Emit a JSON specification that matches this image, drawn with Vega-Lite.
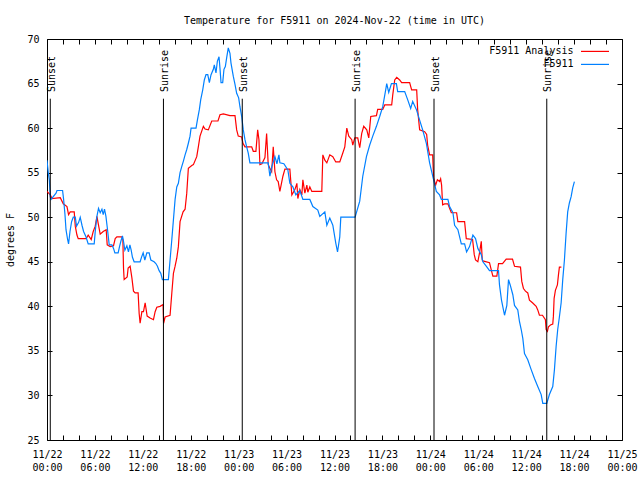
{
  "$schema": "https://vega.github.io/schema/vega-lite/v6.json",
  "width": 575,
  "height": 401,
  "autosize": {"type": "none"},
  "padding": {"left": 47, "top": 39, "right": 18, "bottom": 40},
  "title": {"text": "Temperature for F5911 on 2024-Nov-22 (time in UTC)", "anchor": "middle", "font": "DejaVu Sans Mono", "fontSize": 10, "fontWeight": "normal", "color": "black", "offset": 8},
  "datasets": {
    "sun": [
      {"event": "Sunset", "hour": 0.41},
      {"event": "Sunrise", "hour": 14.58},
      {"event": "Sunset", "hour": 24.45},
      {"event": "Sunrise", "hour": 38.58},
      {"event": "Sunset", "hour": 48.46},
      {"event": "Sunrise", "hour": 62.58}
    ],
    "obs": [
      {"series": "F5911 Analysis", "hour": 0.0, "temp": 52.9},
      {"series": "F5911 Analysis", "hour": 0.41, "temp": 52.5},
      {"series": "F5911 Analysis", "hour": 0.63, "temp": 52.1},
      {"series": "F5911 Analysis", "hour": 1.66, "temp": 52.2},
      {"series": "F5911 Analysis", "hour": 2.04, "temp": 51.5},
      {"series": "F5911 Analysis", "hour": 2.5, "temp": 51.2},
      {"series": "F5911 Analysis", "hour": 2.7, "temp": 50.3},
      {"series": "F5911 Analysis", "hour": 2.91, "temp": 50.6},
      {"series": "F5911 Analysis", "hour": 3.41, "temp": 50.6},
      {"series": "F5911 Analysis", "hour": 3.54, "temp": 49.0},
      {"series": "F5911 Analysis", "hour": 3.75, "temp": 48.0},
      {"series": "F5911 Analysis", "hour": 3.91, "temp": 47.6},
      {"series": "F5911 Analysis", "hour": 4.91, "temp": 47.6},
      {"series": "F5911 Analysis", "hour": 5.16, "temp": 48.0},
      {"series": "F5911 Analysis", "hour": 5.54, "temp": 47.5},
      {"series": "F5911 Analysis", "hour": 5.79, "temp": 48.4},
      {"series": "F5911 Analysis", "hour": 6.04, "temp": 49.0},
      {"series": "F5911 Analysis", "hour": 6.25, "temp": 50.1},
      {"series": "F5911 Analysis", "hour": 6.41, "temp": 49.3},
      {"series": "F5911 Analysis", "hour": 6.66, "temp": 48.1},
      {"series": "F5911 Analysis", "hour": 7.04, "temp": 48.4},
      {"series": "F5911 Analysis", "hour": 7.41, "temp": 48.6},
      {"series": "F5911 Analysis", "hour": 7.54, "temp": 46.9},
      {"series": "F5911 Analysis", "hour": 7.91, "temp": 46.7},
      {"series": "F5911 Analysis", "hour": 8.33, "temp": 46.8},
      {"series": "F5911 Analysis", "hour": 8.54, "temp": 47.6},
      {"series": "F5911 Analysis", "hour": 8.75, "temp": 47.8},
      {"series": "F5911 Analysis", "hour": 9.38, "temp": 47.8},
      {"series": "F5911 Analysis", "hour": 9.5, "temp": 47.5},
      {"series": "F5911 Analysis", "hour": 9.58, "temp": 44.3},
      {"series": "F5911 Analysis", "hour": 9.66, "temp": 43.0},
      {"series": "F5911 Analysis", "hour": 10.04, "temp": 43.3},
      {"series": "F5911 Analysis", "hour": 10.16, "temp": 44.3},
      {"series": "F5911 Analysis", "hour": 10.41, "temp": 44.5},
      {"series": "F5911 Analysis", "hour": 10.63, "temp": 43.2},
      {"series": "F5911 Analysis", "hour": 10.83, "temp": 41.7},
      {"series": "F5911 Analysis", "hour": 11.04, "temp": 41.5},
      {"series": "F5911 Analysis", "hour": 11.41, "temp": 41.5},
      {"series": "F5911 Analysis", "hour": 11.54, "temp": 39.2},
      {"series": "F5911 Analysis", "hour": 11.66, "temp": 38.1},
      {"series": "F5911 Analysis", "hour": 11.88, "temp": 39.4},
      {"series": "F5911 Analysis", "hour": 12.08, "temp": 39.4},
      {"series": "F5911 Analysis", "hour": 12.29, "temp": 40.4},
      {"series": "F5911 Analysis", "hour": 12.54, "temp": 38.9},
      {"series": "F5911 Analysis", "hour": 12.91, "temp": 38.7},
      {"series": "F5911 Analysis", "hour": 13.33, "temp": 38.5},
      {"series": "F5911 Analysis", "hour": 13.54, "temp": 39.4},
      {"series": "F5911 Analysis", "hour": 13.75, "temp": 39.9},
      {"series": "F5911 Analysis", "hour": 14.16, "temp": 40.0},
      {"series": "F5911 Analysis", "hour": 14.54, "temp": 40.2},
      {"series": "F5911 Analysis", "hour": 14.6, "temp": 38.1},
      {"series": "F5911 Analysis", "hour": 14.79, "temp": 38.8},
      {"series": "F5911 Analysis", "hour": 15.41, "temp": 39.0},
      {"series": "F5911 Analysis", "hour": 15.63, "temp": 41.5},
      {"series": "F5911 Analysis", "hour": 15.83, "temp": 43.7},
      {"series": "F5911 Analysis", "hour": 16.04, "temp": 44.5},
      {"series": "F5911 Analysis", "hour": 16.25, "temp": 45.4},
      {"series": "F5911 Analysis", "hour": 16.45, "temp": 46.7},
      {"series": "F5911 Analysis", "hour": 16.66, "temp": 49.5},
      {"series": "F5911 Analysis", "hour": 17.04, "temp": 50.6},
      {"series": "F5911 Analysis", "hour": 17.29, "temp": 50.9},
      {"series": "F5911 Analysis", "hour": 17.5, "temp": 52.7},
      {"series": "F5911 Analysis", "hour": 17.7, "temp": 55.5},
      {"series": "F5911 Analysis", "hour": 18.13, "temp": 55.8},
      {"series": "F5911 Analysis", "hour": 18.33, "temp": 55.9},
      {"series": "F5911 Analysis", "hour": 18.75, "temp": 56.8},
      {"series": "F5911 Analysis", "hour": 18.95, "temp": 57.9},
      {"series": "F5911 Analysis", "hour": 19.16, "temp": 59.1},
      {"series": "F5911 Analysis", "hour": 19.58, "temp": 60.2},
      {"series": "F5911 Analysis", "hour": 19.79, "temp": 59.9},
      {"series": "F5911 Analysis", "hour": 20.2, "temp": 59.8},
      {"series": "F5911 Analysis", "hour": 20.63, "temp": 60.8},
      {"series": "F5911 Analysis", "hour": 21.41, "temp": 60.8},
      {"series": "F5911 Analysis", "hour": 21.66, "temp": 61.5},
      {"series": "F5911 Analysis", "hour": 22.08, "temp": 61.6},
      {"series": "F5911 Analysis", "hour": 22.91, "temp": 61.4},
      {"series": "F5911 Analysis", "hour": 23.54, "temp": 61.4},
      {"series": "F5911 Analysis", "hour": 23.75, "temp": 59.8},
      {"series": "F5911 Analysis", "hour": 23.95, "temp": 59.1},
      {"series": "F5911 Analysis", "hour": 24.38, "temp": 59.0},
      {"series": "F5911 Analysis", "hour": 24.54, "temp": 58.3},
      {"series": "F5911 Analysis", "hour": 24.79, "temp": 57.9},
      {"series": "F5911 Analysis", "hour": 25.63, "temp": 57.9},
      {"series": "F5911 Analysis", "hour": 25.83, "temp": 57.4},
      {"series": "F5911 Analysis", "hour": 26.16, "temp": 57.4},
      {"series": "F5911 Analysis", "hour": 26.38, "temp": 59.8},
      {"series": "F5911 Analysis", "hour": 26.54, "temp": 58.7},
      {"series": "F5911 Analysis", "hour": 26.66, "temp": 55.9},
      {"series": "F5911 Analysis", "hour": 26.91, "temp": 56.0},
      {"series": "F5911 Analysis", "hour": 27.29, "temp": 56.7},
      {"series": "F5911 Analysis", "hour": 27.5, "temp": 59.4},
      {"series": "F5911 Analysis", "hour": 27.7, "temp": 55.9},
      {"series": "F5911 Analysis", "hour": 27.91, "temp": 55.5},
      {"series": "F5911 Analysis", "hour": 28.13, "temp": 55.1},
      {"series": "F5911 Analysis", "hour": 28.33, "temp": 57.9},
      {"series": "F5911 Analysis", "hour": 28.54, "temp": 55.1},
      {"series": "F5911 Analysis", "hour": 28.75, "temp": 54.2},
      {"series": "F5911 Analysis", "hour": 28.95, "temp": 54.0},
      {"series": "F5911 Analysis", "hour": 29.16, "temp": 52.9},
      {"series": "F5911 Analysis", "hour": 29.54, "temp": 54.6},
      {"series": "F5911 Analysis", "hour": 29.79, "temp": 55.4},
      {"series": "F5911 Analysis", "hour": 30.41, "temp": 55.4},
      {"series": "F5911 Analysis", "hour": 30.66, "temp": 52.5},
      {"series": "F5911 Analysis", "hour": 31.04, "temp": 53.1},
      {"series": "F5911 Analysis", "hour": 31.29, "temp": 53.8},
      {"series": "F5911 Analysis", "hour": 31.41, "temp": 52.1},
      {"series": "F5911 Analysis", "hour": 31.66, "temp": 53.1},
      {"series": "F5911 Analysis", "hour": 31.91, "temp": 52.5},
      {"series": "F5911 Analysis", "hour": 32.04, "temp": 54.2},
      {"series": "F5911 Analysis", "hour": 32.29, "temp": 52.7},
      {"series": "F5911 Analysis", "hour": 32.54, "temp": 53.6},
      {"series": "F5911 Analysis", "hour": 32.66, "temp": 52.8},
      {"series": "F5911 Analysis", "hour": 32.91, "temp": 53.4},
      {"series": "F5911 Analysis", "hour": 33.16, "temp": 52.9},
      {"series": "F5911 Analysis", "hour": 34.41, "temp": 52.9},
      {"series": "F5911 Analysis", "hour": 34.54, "temp": 57.0},
      {"series": "F5911 Analysis", "hour": 34.79, "temp": 56.4},
      {"series": "F5911 Analysis", "hour": 35.04, "temp": 56.1},
      {"series": "F5911 Analysis", "hour": 35.41, "temp": 57.0},
      {"series": "F5911 Analysis", "hour": 35.79, "temp": 56.8},
      {"series": "F5911 Analysis", "hour": 36.16, "temp": 56.2},
      {"series": "F5911 Analysis", "hour": 36.66, "temp": 56.2},
      {"series": "F5911 Analysis", "hour": 37.04, "temp": 57.2},
      {"series": "F5911 Analysis", "hour": 37.29, "temp": 57.9},
      {"series": "F5911 Analysis", "hour": 37.54, "temp": 60.0},
      {"series": "F5911 Analysis", "hour": 37.79, "temp": 59.1},
      {"series": "F5911 Analysis", "hour": 38.16, "temp": 58.7},
      {"series": "F5911 Analysis", "hour": 38.29, "temp": 58.1},
      {"series": "F5911 Analysis", "hour": 38.54, "temp": 58.9},
      {"series": "F5911 Analysis", "hour": 38.91, "temp": 58.9},
      {"series": "F5911 Analysis", "hour": 39.16, "temp": 57.8},
      {"series": "F5911 Analysis", "hour": 39.41, "temp": 59.4},
      {"series": "F5911 Analysis", "hour": 39.66, "temp": 60.2},
      {"series": "F5911 Analysis", "hour": 40.04, "temp": 59.8},
      {"series": "F5911 Analysis", "hour": 40.29, "temp": 58.9},
      {"series": "F5911 Analysis", "hour": 40.54, "temp": 61.3},
      {"series": "F5911 Analysis", "hour": 41.25, "temp": 61.4},
      {"series": "F5911 Analysis", "hour": 41.41, "temp": 62.1},
      {"series": "F5911 Analysis", "hour": 42.04, "temp": 62.1},
      {"series": "F5911 Analysis", "hour": 42.29, "temp": 62.6},
      {"series": "F5911 Analysis", "hour": 43.16, "temp": 62.6},
      {"series": "F5911 Analysis", "hour": 43.29, "temp": 63.7},
      {"series": "F5911 Analysis", "hour": 43.54, "temp": 65.4},
      {"series": "F5911 Analysis", "hour": 43.79, "temp": 65.7},
      {"series": "F5911 Analysis", "hour": 44.16, "temp": 65.4},
      {"series": "F5911 Analysis", "hour": 44.41, "temp": 65.1},
      {"series": "F5911 Analysis", "hour": 45.41, "temp": 65.1},
      {"series": "F5911 Analysis", "hour": 45.66, "temp": 64.3},
      {"series": "F5911 Analysis", "hour": 46.29, "temp": 64.3},
      {"series": "F5911 Analysis", "hour": 46.41, "temp": 62.1},
      {"series": "F5911 Analysis", "hour": 46.66, "temp": 59.8},
      {"series": "F5911 Analysis", "hour": 47.29, "temp": 59.6},
      {"series": "F5911 Analysis", "hour": 47.54, "temp": 59.3},
      {"series": "F5911 Analysis", "hour": 47.66, "temp": 58.1},
      {"series": "F5911 Analysis", "hour": 47.91, "temp": 57.0},
      {"series": "F5911 Analysis", "hour": 48.29, "temp": 57.0},
      {"series": "F5911 Analysis", "hour": 48.41, "temp": 54.4},
      {"series": "F5911 Analysis", "hour": 48.66, "temp": 53.6},
      {"series": "F5911 Analysis", "hour": 48.88, "temp": 54.2},
      {"series": "F5911 Analysis", "hour": 49.16, "temp": 54.0},
      {"series": "F5911 Analysis", "hour": 49.29, "temp": 54.3},
      {"series": "F5911 Analysis", "hour": 49.41, "temp": 53.6},
      {"series": "F5911 Analysis", "hour": 49.54, "temp": 51.4},
      {"series": "F5911 Analysis", "hour": 49.79, "temp": 51.5},
      {"series": "F5911 Analysis", "hour": 50.2, "temp": 51.5},
      {"series": "F5911 Analysis", "hour": 50.41, "temp": 51.0},
      {"series": "F5911 Analysis", "hour": 50.63, "temp": 50.5},
      {"series": "F5911 Analysis", "hour": 51.29, "temp": 50.5},
      {"series": "F5911 Analysis", "hour": 51.45, "temp": 49.5},
      {"series": "F5911 Analysis", "hour": 52.29, "temp": 49.5},
      {"series": "F5911 Analysis", "hour": 52.5, "temp": 47.6},
      {"series": "F5911 Analysis", "hour": 53.29, "temp": 47.5},
      {"series": "F5911 Analysis", "hour": 53.5, "temp": 45.8},
      {"series": "F5911 Analysis", "hour": 53.66, "temp": 45.2},
      {"series": "F5911 Analysis", "hour": 53.95, "temp": 45.0},
      {"series": "F5911 Analysis", "hour": 54.16, "temp": 46.0},
      {"series": "F5911 Analysis", "hour": 54.38, "temp": 47.3},
      {"series": "F5911 Analysis", "hour": 54.5, "temp": 45.2},
      {"series": "F5911 Analysis", "hour": 54.58, "temp": 45.1},
      {"series": "F5911 Analysis", "hour": 55.41, "temp": 44.9},
      {"series": "F5911 Analysis", "hour": 55.63, "temp": 44.1},
      {"series": "F5911 Analysis", "hour": 55.83, "temp": 43.4},
      {"series": "F5911 Analysis", "hour": 56.33, "temp": 43.4},
      {"series": "F5911 Analysis", "hour": 56.54, "temp": 44.8},
      {"series": "F5911 Analysis", "hour": 57.04, "temp": 44.8},
      {"series": "F5911 Analysis", "hour": 57.5, "temp": 45.3},
      {"series": "F5911 Analysis", "hour": 58.29, "temp": 45.3},
      {"series": "F5911 Analysis", "hour": 58.54, "temp": 44.5},
      {"series": "F5911 Analysis", "hour": 59.29, "temp": 44.4},
      {"series": "F5911 Analysis", "hour": 59.45, "temp": 42.8},
      {"series": "F5911 Analysis", "hour": 59.66, "temp": 42.0},
      {"series": "F5911 Analysis", "hour": 59.91, "temp": 41.7},
      {"series": "F5911 Analysis", "hour": 60.2, "temp": 41.5},
      {"series": "F5911 Analysis", "hour": 60.41, "temp": 40.7},
      {"series": "F5911 Analysis", "hour": 60.79, "temp": 40.4},
      {"series": "F5911 Analysis", "hour": 61.25, "temp": 40.0},
      {"series": "F5911 Analysis", "hour": 61.45, "temp": 39.6},
      {"series": "F5911 Analysis", "hour": 61.66, "temp": 39.0},
      {"series": "F5911 Analysis", "hour": 62.04, "temp": 39.0},
      {"series": "F5911 Analysis", "hour": 62.41, "temp": 38.5},
      {"series": "F5911 Analysis", "hour": 62.5, "temp": 37.4},
      {"series": "F5911 Analysis", "hour": 62.66, "temp": 37.2},
      {"series": "F5911 Analysis", "hour": 62.79, "temp": 37.7},
      {"series": "F5911 Analysis", "hour": 63.04, "temp": 37.9},
      {"series": "F5911 Analysis", "hour": 63.33, "temp": 38.0},
      {"series": "F5911 Analysis", "hour": 63.41, "temp": 38.9},
      {"series": "F5911 Analysis", "hour": 63.5, "temp": 40.9},
      {"series": "F5911 Analysis", "hour": 63.66, "temp": 41.8},
      {"series": "F5911 Analysis", "hour": 63.91, "temp": 42.4},
      {"series": "F5911 Analysis", "hour": 64.04, "temp": 43.5},
      {"series": "F5911 Analysis", "hour": 64.16, "temp": 44.4},
      {"series": "F5911 Analysis", "hour": 64.41, "temp": 44.4},
      {"series": "F5911", "hour": 0.0, "temp": 56.4},
      {"series": "F5911", "hour": 0.16, "temp": 55.0},
      {"series": "F5911", "hour": 0.29, "temp": 54.2},
      {"series": "F5911", "hour": 0.41, "temp": 52.3},
      {"series": "F5911", "hour": 0.5, "temp": 52.0},
      {"series": "F5911", "hour": 1.13, "temp": 52.7},
      {"series": "F5911", "hour": 1.25, "temp": 53.0},
      {"series": "F5911", "hour": 1.95, "temp": 53.0},
      {"series": "F5911", "hour": 2.08, "temp": 52.0},
      {"series": "F5911", "hour": 2.25, "temp": 50.3},
      {"series": "F5911", "hour": 2.38, "temp": 48.6},
      {"series": "F5911", "hour": 2.58, "temp": 47.5},
      {"series": "F5911", "hour": 2.7, "temp": 47.0},
      {"series": "F5911", "hour": 2.88, "temp": 48.4},
      {"series": "F5911", "hour": 3.08, "temp": 49.5},
      {"series": "F5911", "hour": 3.29, "temp": 50.0},
      {"series": "F5911", "hour": 3.54, "temp": 50.0},
      {"series": "F5911", "hour": 3.7, "temp": 49.0},
      {"series": "F5911", "hour": 3.95, "temp": 49.4},
      {"series": "F5911", "hour": 4.16, "temp": 50.0},
      {"series": "F5911", "hour": 4.38, "temp": 49.1},
      {"series": "F5911", "hour": 4.58, "temp": 48.4},
      {"series": "F5911", "hour": 4.88, "temp": 47.8},
      {"series": "F5911", "hour": 5.16, "temp": 47.0},
      {"series": "F5911", "hour": 5.91, "temp": 47.0},
      {"series": "F5911", "hour": 6.04, "temp": 48.4},
      {"series": "F5911", "hour": 6.25, "temp": 50.1},
      {"series": "F5911", "hour": 6.45, "temp": 51.0},
      {"series": "F5911", "hour": 6.66, "temp": 50.5},
      {"series": "F5911", "hour": 6.88, "temp": 50.9},
      {"series": "F5911", "hour": 7.04, "temp": 50.3},
      {"series": "F5911", "hour": 7.2, "temp": 50.9},
      {"series": "F5911", "hour": 7.38, "temp": 50.1},
      {"series": "F5911", "hour": 7.58, "temp": 48.6},
      {"series": "F5911", "hour": 7.79, "temp": 46.9},
      {"series": "F5911", "hour": 8.13, "temp": 46.9},
      {"series": "F5911", "hour": 8.33, "temp": 46.5},
      {"series": "F5911", "hour": 8.5, "temp": 46.0},
      {"series": "F5911", "hour": 8.91, "temp": 46.0},
      {"series": "F5911", "hour": 9.08, "temp": 46.7},
      {"series": "F5911", "hour": 9.25, "temp": 47.3},
      {"series": "F5911", "hour": 9.45, "temp": 47.9},
      {"series": "F5911", "hour": 9.58, "temp": 47.3},
      {"series": "F5911", "hour": 9.75, "temp": 46.3},
      {"series": "F5911", "hour": 10.0, "temp": 46.8},
      {"series": "F5911", "hour": 10.2, "temp": 46.1},
      {"series": "F5911", "hour": 10.38, "temp": 46.9},
      {"series": "F5911", "hour": 10.54, "temp": 46.3},
      {"series": "F5911", "hour": 10.7, "temp": 45.5},
      {"series": "F5911", "hour": 10.91, "temp": 45.0},
      {"series": "F5911", "hour": 11.66, "temp": 45.0},
      {"series": "F5911", "hour": 11.83, "temp": 45.5},
      {"series": "F5911", "hour": 12.04, "temp": 46.0},
      {"series": "F5911", "hour": 12.25, "temp": 45.2},
      {"series": "F5911", "hour": 12.5, "temp": 46.0},
      {"series": "F5911", "hour": 12.79, "temp": 46.0},
      {"series": "F5911", "hour": 13.0, "temp": 45.2},
      {"series": "F5911", "hour": 13.41, "temp": 45.0},
      {"series": "F5911", "hour": 13.63, "temp": 44.8},
      {"series": "F5911", "hour": 13.83, "temp": 44.5},
      {"series": "F5911", "hour": 14.04, "temp": 44.0},
      {"series": "F5911", "hour": 14.25, "temp": 43.7},
      {"series": "F5911", "hour": 14.45, "temp": 43.0},
      {"series": "F5911", "hour": 15.2, "temp": 43.0},
      {"series": "F5911", "hour": 15.41, "temp": 45.2},
      {"series": "F5911", "hour": 15.63, "temp": 47.5},
      {"series": "F5911", "hour": 15.83, "temp": 49.7},
      {"series": "F5911", "hour": 16.04, "temp": 52.0},
      {"series": "F5911", "hour": 16.25, "temp": 53.4},
      {"series": "F5911", "hour": 16.45, "temp": 53.8},
      {"series": "F5911", "hour": 16.66, "temp": 55.0},
      {"series": "F5911", "hour": 16.88, "temp": 55.7},
      {"series": "F5911", "hour": 17.08, "temp": 56.3},
      {"series": "F5911", "hour": 17.29, "temp": 57.0},
      {"series": "F5911", "hour": 17.5, "temp": 57.6},
      {"series": "F5911", "hour": 17.7, "temp": 58.3},
      {"series": "F5911", "hour": 17.91, "temp": 59.1},
      {"series": "F5911", "hour": 18.04, "temp": 60.0},
      {"series": "F5911", "hour": 18.66, "temp": 60.0},
      {"series": "F5911", "hour": 18.83, "temp": 60.9},
      {"series": "F5911", "hour": 19.08, "temp": 62.1},
      {"series": "F5911", "hour": 19.25, "temp": 63.2},
      {"series": "F5911", "hour": 19.5, "temp": 64.3},
      {"series": "F5911", "hour": 19.7, "temp": 65.4},
      {"series": "F5911", "hour": 19.91, "temp": 66.0},
      {"series": "F5911", "hour": 20.13, "temp": 66.0},
      {"series": "F5911", "hour": 20.33, "temp": 65.1},
      {"series": "F5911", "hour": 20.54, "temp": 66.0},
      {"series": "F5911", "hour": 20.83, "temp": 66.6},
      {"series": "F5911", "hour": 20.95, "temp": 67.1},
      {"series": "F5911", "hour": 21.16, "temp": 66.2},
      {"series": "F5911", "hour": 21.33, "temp": 67.5},
      {"series": "F5911", "hour": 21.54, "temp": 68.0},
      {"series": "F5911", "hour": 21.66, "temp": 66.7},
      {"series": "F5911", "hour": 21.79, "temp": 65.1},
      {"series": "F5911", "hour": 22.0, "temp": 65.1},
      {"series": "F5911", "hour": 22.16, "temp": 66.6},
      {"series": "F5911", "hour": 22.33, "temp": 66.9},
      {"series": "F5911", "hour": 22.5, "temp": 67.9},
      {"series": "F5911", "hour": 22.7, "temp": 69.0},
      {"series": "F5911", "hour": 22.91, "temp": 68.4},
      {"series": "F5911", "hour": 23.04, "temp": 67.3},
      {"series": "F5911", "hour": 23.33, "temp": 65.8},
      {"series": "F5911", "hour": 23.54, "temp": 64.9},
      {"series": "F5911", "hour": 23.75, "temp": 63.9},
      {"series": "F5911", "hour": 24.0, "temp": 63.4},
      {"series": "F5911", "hour": 24.16, "temp": 62.4},
      {"series": "F5911", "hour": 24.38, "temp": 61.3},
      {"series": "F5911", "hour": 24.58, "temp": 59.8},
      {"series": "F5911", "hour": 24.79, "temp": 58.7},
      {"series": "F5911", "hour": 25.0, "temp": 57.9},
      {"series": "F5911", "hour": 25.2, "temp": 57.2},
      {"series": "F5911", "hour": 25.41, "temp": 56.1},
      {"series": "F5911", "hour": 27.7, "temp": 56.1},
      {"series": "F5911", "hour": 27.91, "temp": 54.6},
      {"series": "F5911", "hour": 28.16, "temp": 55.7},
      {"series": "F5911", "hour": 28.54, "temp": 56.8},
      {"series": "F5911", "hour": 28.79, "temp": 56.0},
      {"series": "F5911", "hour": 29.04, "temp": 57.0},
      {"series": "F5911", "hour": 29.16, "temp": 56.1},
      {"series": "F5911", "hour": 29.66, "temp": 56.0},
      {"series": "F5911", "hour": 30.16, "temp": 55.3},
      {"series": "F5911", "hour": 30.41, "temp": 53.8},
      {"series": "F5911", "hour": 30.79, "temp": 53.4},
      {"series": "F5911", "hour": 31.16, "temp": 52.5},
      {"series": "F5911", "hour": 31.66, "temp": 53.0},
      {"series": "F5911", "hour": 32.04, "temp": 52.0},
      {"series": "F5911", "hour": 32.91, "temp": 52.0},
      {"series": "F5911", "hour": 33.29, "temp": 51.2},
      {"series": "F5911", "hour": 33.91, "temp": 50.8},
      {"series": "F5911", "hour": 34.16, "temp": 50.1},
      {"series": "F5911", "hour": 34.79, "temp": 50.6},
      {"series": "F5911", "hour": 35.04, "temp": 49.1},
      {"series": "F5911", "hour": 35.41, "temp": 49.9},
      {"series": "F5911", "hour": 35.79, "temp": 49.1},
      {"series": "F5911", "hour": 36.16, "temp": 47.1},
      {"series": "F5911", "hour": 36.38, "temp": 46.1},
      {"series": "F5911", "hour": 36.66, "temp": 47.8},
      {"series": "F5911", "hour": 36.79, "temp": 50.0},
      {"series": "F5911", "hour": 38.58, "temp": 50.0},
      {"series": "F5911", "hour": 39.16, "temp": 51.8},
      {"series": "F5911", "hour": 39.54, "temp": 54.6},
      {"series": "F5911", "hour": 40.0, "temp": 56.8},
      {"series": "F5911", "hour": 40.41, "temp": 58.1},
      {"series": "F5911", "hour": 40.79, "temp": 59.1},
      {"series": "F5911", "hour": 41.25, "temp": 60.2},
      {"series": "F5911", "hour": 41.66, "temp": 61.3},
      {"series": "F5911", "hour": 42.04, "temp": 62.4},
      {"series": "F5911", "hour": 42.41, "temp": 64.3},
      {"series": "F5911", "hour": 42.54, "temp": 65.0},
      {"series": "F5911", "hour": 42.79, "temp": 64.0},
      {"series": "F5911", "hour": 43.13, "temp": 65.0},
      {"series": "F5911", "hour": 43.75, "temp": 65.0},
      {"series": "F5911", "hour": 43.91, "temp": 64.1},
      {"series": "F5911", "hour": 44.79, "temp": 64.1},
      {"series": "F5911", "hour": 45.16, "temp": 63.2},
      {"series": "F5911", "hour": 45.54, "temp": 62.2},
      {"series": "F5911", "hour": 45.79, "temp": 63.0},
      {"series": "F5911", "hour": 46.25, "temp": 62.1},
      {"series": "F5911", "hour": 46.66, "temp": 60.9},
      {"series": "F5911", "hour": 47.04, "temp": 59.8},
      {"series": "F5911", "hour": 47.5, "temp": 58.3},
      {"series": "F5911", "hour": 47.91, "temp": 56.1},
      {"series": "F5911", "hour": 48.33, "temp": 54.5},
      {"series": "F5911", "hour": 48.75, "temp": 52.9},
      {"series": "F5911", "hour": 49.16, "temp": 52.5},
      {"series": "F5911", "hour": 49.38, "temp": 52.0},
      {"series": "F5911", "hour": 50.2, "temp": 52.0},
      {"series": "F5911", "hour": 50.41, "temp": 51.2},
      {"series": "F5911", "hour": 50.83, "temp": 50.5},
      {"series": "F5911", "hour": 51.04, "temp": 49.1},
      {"series": "F5911", "hour": 51.45, "temp": 48.6},
      {"series": "F5911", "hour": 51.88, "temp": 47.0},
      {"series": "F5911", "hour": 52.29, "temp": 47.0},
      {"series": "F5911", "hour": 52.54, "temp": 46.1},
      {"series": "F5911", "hour": 52.91, "temp": 46.7},
      {"series": "F5911", "hour": 53.33, "temp": 48.0},
      {"series": "F5911", "hour": 53.66, "temp": 47.6},
      {"series": "F5911", "hour": 53.95, "temp": 46.5},
      {"series": "F5911", "hour": 54.38, "temp": 45.8},
      {"series": "F5911", "hour": 54.58, "temp": 45.0},
      {"series": "F5911", "hour": 55.0, "temp": 44.5},
      {"series": "F5911", "hour": 55.41, "temp": 44.0},
      {"series": "F5911", "hour": 56.54, "temp": 44.0},
      {"series": "F5911", "hour": 56.66, "temp": 42.4},
      {"series": "F5911", "hour": 56.91, "temp": 40.7},
      {"series": "F5911", "hour": 57.29, "temp": 39.0},
      {"series": "F5911", "hour": 57.58, "temp": 40.1},
      {"series": "F5911", "hour": 57.79, "temp": 43.0},
      {"series": "F5911", "hour": 58.0, "temp": 42.4},
      {"series": "F5911", "hour": 58.33, "temp": 41.3},
      {"series": "F5911", "hour": 58.54, "temp": 40.1},
      {"series": "F5911", "hour": 58.95, "temp": 39.6},
      {"series": "F5911", "hour": 59.16, "temp": 38.3},
      {"series": "F5911", "hour": 59.38, "temp": 37.4},
      {"series": "F5911", "hour": 59.58, "temp": 36.4},
      {"series": "F5911", "hour": 59.79, "temp": 34.7},
      {"series": "F5911", "hour": 60.2, "temp": 34.0},
      {"series": "F5911", "hour": 60.63, "temp": 32.9},
      {"series": "F5911", "hour": 61.04, "temp": 31.9},
      {"series": "F5911", "hour": 61.45, "temp": 31.0},
      {"series": "F5911", "hour": 61.88, "temp": 30.1},
      {"series": "F5911", "hour": 62.08, "temp": 29.1},
      {"series": "F5911", "hour": 62.58, "temp": 29.1},
      {"series": "F5911", "hour": 62.91, "temp": 30.1},
      {"series": "F5911", "hour": 63.33, "temp": 31.0},
      {"series": "F5911", "hour": 63.54, "temp": 32.9},
      {"series": "F5911", "hour": 63.75, "temp": 35.5},
      {"series": "F5911", "hour": 63.95, "temp": 37.4},
      {"series": "F5911", "hour": 64.16, "temp": 38.8},
      {"series": "F5911", "hour": 64.38, "temp": 40.4},
      {"series": "F5911", "hour": 64.58, "temp": 43.0},
      {"series": "F5911", "hour": 64.79, "temp": 45.2},
      {"series": "F5911", "hour": 65.0, "temp": 48.2},
      {"series": "F5911", "hour": 65.2, "temp": 50.6},
      {"series": "F5911", "hour": 65.41, "temp": 51.6},
      {"series": "F5911", "hour": 65.63, "temp": 52.3},
      {"series": "F5911", "hour": 65.83, "temp": 53.3},
      {"series": "F5911", "hour": 66.04, "temp": 54.0}
    ]
  },
  "layer": [
    {
      "data": {"name": "obs"},
      "mark": {"type": "line", "strokeWidth": 1.2, "clip": true},
      "encoding": {
        "x": {"field": "hour", "type": "quantitative", "scale": {"domain": [0, 72], "nice": false, "zero": false},
          "axis": {"orient": "bottom", "values": [0,2,4,6,8,10,12,14,16,18,20,22,24,26,28,30,32,34,36,38,40,42,44,46,48,50,52,54,56,58,60,62,64,66,68,70,72],
            "labelExpr": "datum.value % 6 == 0 ? ['11/' + (22 + floor(datum.value / 24)), (datum.value % 24 < 10 ? '0' : '') + (datum.value % 24) + ':00'] : ''",
            "title": null, "labelPadding": 14, "labelLineHeight": 13, "labelFlush": false, "labelOverlap": false}},
        "y": {"field": "temp", "type": "quantitative", "scale": {"domain": [25, 70], "nice": false, "zero": false},
          "axis": {"orient": "left", "values": [25,30,35,40,45,50,55,60,65,70], "title": "degrees F", "titlePadding": 11, "labelPadding": 13, "labelFlush": false}},
        "color": {"field": "series", "type": "nominal",
          "scale": {"domain": ["F5911 Analysis", "F5911"], "range": ["#ff0000", "#0080ff"]},
          "legend": {"title": null, "orient": "none", "legendX": 540, "legendY": 4.4, "symbolType": "M-2,0H2", "symbolSize": 196, "symbolStrokeWidth": 1.2, "symbolFillColor": "transparent", "labelAlign": "right", "labelOffset": -29.5, "labelFont": "DejaVu Sans Mono", "labelFontSize": 10, "labelColor": "black", "rowPadding": -2, "padding": 0}}
      }
    },
    {
      "data": {"name": "sun"},
      "mark": {"type": "rule", "color": "black", "strokeWidth": 1},
      "encoding": {
        "x": {"field": "hour", "type": "quantitative", "axis": null},
        "y": {"datum": 25, "axis": null},
        "y2": {"datum": 63.3}
      }
    },
    {
      "data": {"name": "sun"},
      "mark": {"type": "text", "angle": 270, "align": "left", "baseline": "middle", "dy": 1.5, "font": "DejaVu Sans Mono", "fontSize": 10, "color": "black"},
      "encoding": {
        "x": {"field": "hour", "type": "quantitative",
          "axis": {"orient": "top", "values": [0,2,4,6,8,10,12,14,16,18,20,22,24,26,28,30,32,34,36,38,40,42,44,46,48,50,52,54,56,58,60,62,64,66,68,70,72], "labels": false, "title": null}},
        "y": {"datum": 64.05, "type": "quantitative",
          "axis": {"orient": "right", "values": [25,30,35,40,45,50,55,60,65,70], "labels": false, "title": null}},
        "text": {"field": "event"}
      }
    }
  ],
  "resolve": {"axis": {"x": "independent", "y": "independent"}},
  "config": {
    "view": {"stroke": "black", "strokeWidth": 1},
    "background": "white",
    "axis": {"domain": false, "grid": false, "ticks": true, "tickSize": -5, "tickColor": "black", "tickWidth": 1,
      "labelFont": "DejaVu Sans Mono", "labelFontSize": 10, "labelColor": "black",
      "titleFont": "DejaVu Sans Mono", "titleFontSize": 10, "titleFontWeight": "normal", "titleColor": "black"},
    "legend": {"labelLimit": 300}
  }
}
